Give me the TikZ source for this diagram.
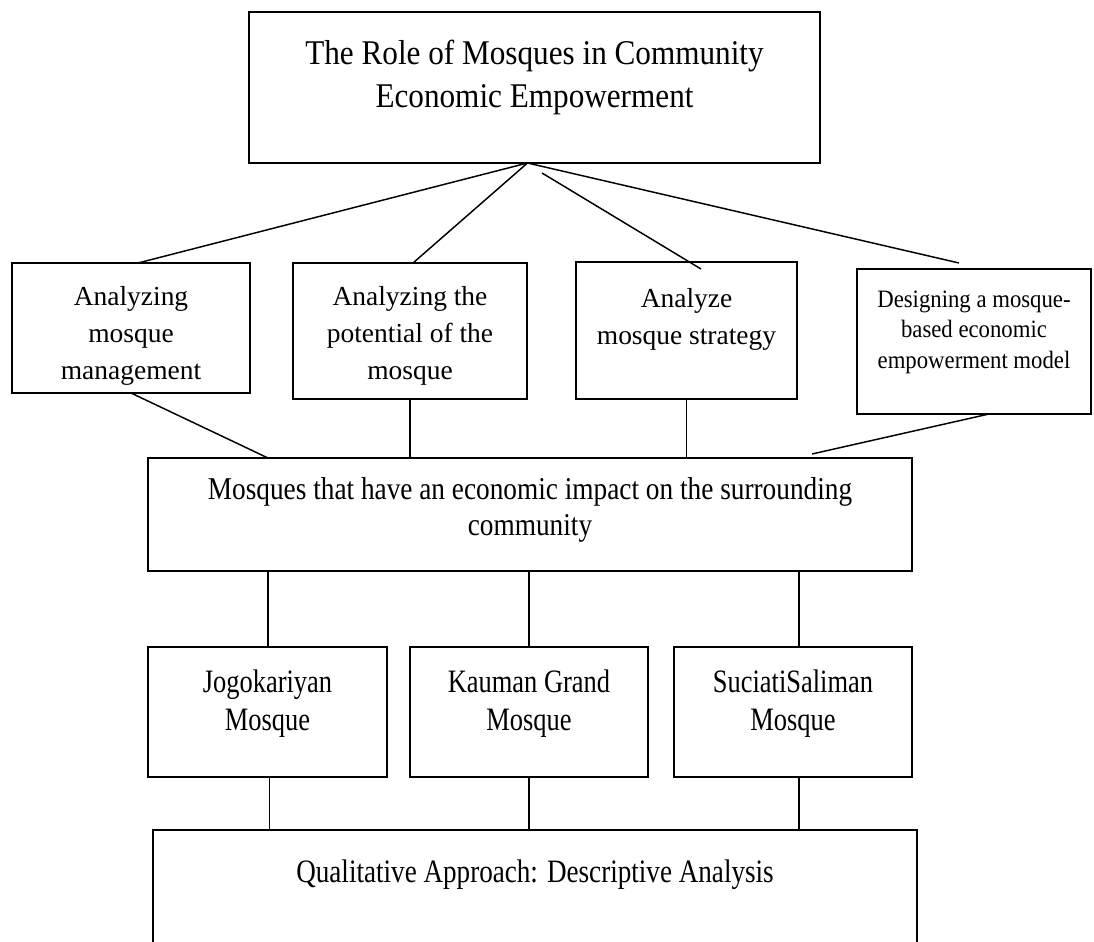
\documentclass[tikz,border=0pt]{standalone}
\usepackage{fontspec}
\setmainfont{Liberation Serif}
\newfontfamily\fTitle[FakeStretch=0.90]{Liberation Serif}
\newfontfamily\fFour[FakeStretch=0.91]{Liberation Serif}
\newfontfamily\fMid[FakeStretch=0.86]{Liberation Serif}
\newfontfamily\fThree[FakeStretch=0.81]{Liberation Serif}
\newfontfamily\fBot[FakeStretch=0.83]{Liberation Serif}
\usetikzlibrary{calc}
\newlength{\pxu}\setlength{\pxu}{0.75pt}
% #1 width, #2 height, #3 first-baseline depth from top, #4 text
\newcommand{\boxtext}[4]{\parbox[c][#2\pxu][t]{#1\pxu}{\centering\rule{0pt}{#3\pxu}#4}}
\tikzset{
  box/.style={draw=black, line width=1.1pt, inner sep=0pt, outer sep=0pt, anchor=north west},
  link/.style={draw=black, line width=1.1pt},
  titlefont/.style={font=\fTitle\fontsize{26}{32.25}\selectfont},
  rowfont/.style={font=\fontsize{20.6}{28.1}\selectfont},
  fourfont/.style={font=\fFour\fontsize{18.75}{22.9}\selectfont},
  midfont/.style={font=\fMid\fontsize{23.8}{27}\selectfont},
  threefont/.style={font=\fThree\fontsize{24.5}{28.5}\selectfont},
  botfont/.style={font=\fBot\fontsize{24.5}{28.5}\selectfont}
}
\begin{document}
\begin{tikzpicture}[x=0.75pt,y=-0.75pt]
\useasboundingbox (0,0) rectangle (1094,941);
\clip (0,0) rectangle (1094,941);
\fill[white] (0,0) rectangle (1094,941);

% title
\node[box, titlefont] (t) at (249,12) {\boxtext{571}{151}{53}{The Role of Mosques in Community\\Economic Empowerment}};

% first row
\node[box, rowfont] (b1) at (12,263) {\boxtext{238}{130}{42}{Analyzing\\mosque\\management}};
\node[box, rowfont] (b2) at (293,263) {\boxtext{234}{136}{42}{Analyzing the\\potential of the\\mosque}};
\node[box, rowfont] (b3) at (576,262) {\boxtext{221}{137}{45}{Analyze\\mosque strategy}};
\node[box, fourfont] (b4) at (857,269) {\boxtext{234}{145}{38}{Designing a mosque-\\based economic\\empowerment model}};

% middle
\node[box, midfont] (mid) at (148,458) {\boxtext{764}{113}{41}{Mosques that have an economic impact on the surrounding\\community}};

% mosques
\node[box, threefont] (J) at (148,647) {\boxtext{239}{130}{45}{Jogokariyan\\Mosque}};
\node[box, threefont] (K) at (410,647) {\boxtext{238}{130}{45}{Kauman Grand\\Mosque}};
\node[box, threefont] (S) at (674,647) {\boxtext{238}{130}{45}{SuciatiSaliman\\Mosque}};

% bottom
\node[box, botfont] (bot) at (153,830) {\boxtext{764}{140}{52}{Qualitative Approach: Descriptive Analysis}};

% helper points on the node borders
\coordinate (apex) at ($(t.south)+(-7,0)$);
\coordinate (b3start) at ($(t.south)+(7.5,10)$);
\coordinate (b4end) at ($(b4.north)+(-15,-6)$);
\coordinate (b4out) at ($(b4.south)+(15,0)$);
\coordinate (midin) at ($(mid.north east)+(-100,-4)$);
\coordinate (Jtop) at ($(J.north)+(0.5,0)$);
\coordinate (Stop) at ($(S.north)+(6,0)$);
\coordinate (Jbot) at ($(J.south)+(2,0)$);
\coordinate (Sbot) at ($(S.south)+(6,0)$);

% connectors title -> first row
\draw[link] (apex) -- ($(b1.north)+(7,0)$);
\draw[link] (apex) -- ($(b2.north)+(3,0)$);
\draw[link] (b3start) -- ($(b3.north)+(14.5,7)$);
\draw[link] (apex) -- (b4end);

% first row -> middle
\draw[link] (b1.south) -- (Jtop |- mid.north);
\draw[link] (b2.south) -- (b2.south |- mid.north);
\draw[link] (b3.south) -- (b3.south |- mid.north);
\draw[link] (b4out) -- (midin);

% middle -> mosques
\draw[link] (Jtop |- mid.south) -- (Jtop);
\draw[link] (K.north |- mid.south) -- (K.north);
\draw[link] (Stop |- mid.south) -- (Stop);

% mosques -> bottom
\draw[link] (Jbot) -- (Jbot |- bot.north);
\draw[link] (K.south) -- (K.south |- bot.north);
\draw[link] (Sbot) -- (Sbot |- bot.north);
\end{tikzpicture}
\end{document}
